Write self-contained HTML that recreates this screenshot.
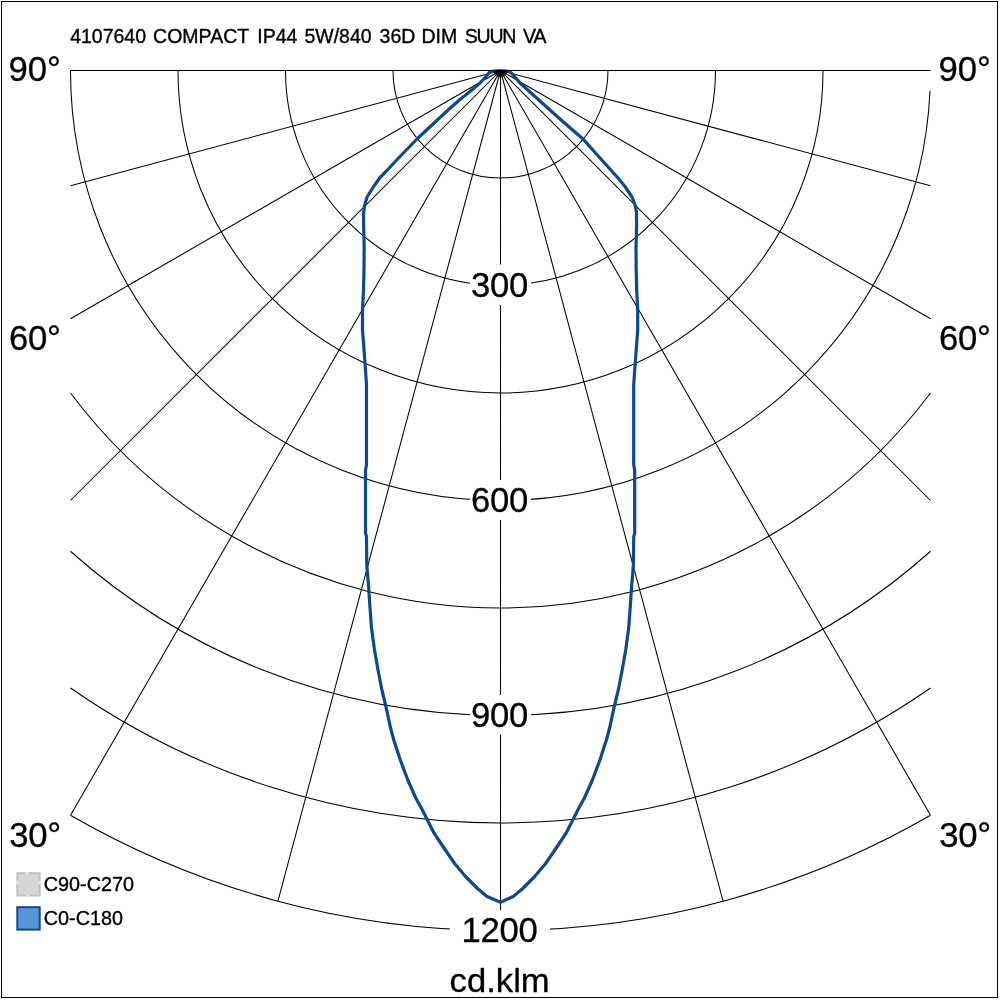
<!DOCTYPE html>
<html lang="en"><head><meta charset="utf-8"><title>4107640 COMPACT IP44 5W/840 36D DIM SUUN VA</title>
<style>
html,body{margin:0;padding:0;background:#fff;}
body{width:1000px;height:1000px;overflow:hidden;position:relative;}
svg{position:absolute;left:0;top:0;display:block;}
text{font-family:"Liberation Sans",Arial,Helvetica,sans-serif;fill:#000;}
.big{font-size:34.67px;stroke:#000;stroke-width:0.3px;}
.sm{font-size:20px;stroke:#000;stroke-width:0.35px;}
</style></head><body>
<svg width="1000" height="1000" viewBox="0 0 1000 1000">
<rect x="0" y="0" width="1000" height="1000" fill="#fff"/>
<rect x="1.5" y="1.5" width="996" height="996" fill="none" stroke="#000" stroke-width="1"/>
<path d="M393.00 70.50A107.5 107.5 0 0 0 608.00 70.50M285.50 70.50A215.0 215.0 0 0 0 715.50 70.50M178.00 70.50A322.5 322.5 0 0 0 823.00 70.50M70.50 70.50A430.0 430.0 0 0 0 930.50 70.50M70.50 393.00A537.5 537.5 0 0 0 930.50 393.00M70.50 551.25A645.0 645.0 0 0 0 930.50 551.25M70.50 688.04A752.5 752.5 0 0 0 930.50 688.04M70.50 815.28A860.0 860.0 0 0 0 930.50 815.28M500.5 70.5L500.50 930.50M500.5 70.5L277.92 901.20M500.5 70.5L723.08 901.20M500.5 70.5L70.50 815.28M500.5 70.5L930.50 815.28M500.5 70.5L70.50 500.50M500.5 70.5L930.50 500.50M500.5 70.5L70.50 318.76M500.5 70.5L930.50 318.76M500.5 70.5L70.50 185.72M500.5 70.5L930.50 185.72M70.5 70.5L930.5 70.5" fill="none" stroke="#000" stroke-width="1.05"/>
<g fill="#fff">
<rect x="470" y="264.5" width="61" height="40.5"/>
<rect x="470" y="480" width="61" height="40"/>
<rect x="470" y="695" width="61" height="39.5"/>
<rect x="450" y="910" width="100" height="41"/>
<rect x="929" y="50" width="63" height="41"/>
</g>
<path d="M929 70.5L930.5 70.5" stroke="#000" stroke-width="1"/>
<text class="sm" y="42.6" style="font-size:19.5px"><tspan x="70.15">4107640 </tspan><tspan x="153.1">COMPACT </tspan><tspan x="257.25">IP44 </tspan><tspan x="304.4">5W/840 </tspan><tspan x="379.55">36D </tspan><tspan x="421.5">DIM </tspan><tspan x="464.65" style="letter-spacing:-1.15px">SUUN </tspan><tspan x="522.9" style="letter-spacing:-0.9px">VA</tspan></text>
<g class="big" style="letter-spacing:-0.28px">
<text x="471.1" y="296.5">300</text>
<text x="471.1" y="511.7">600</text>
<text x="471.1" y="726.9">900</text>
<text x="461.6" y="942">1200</text>
</g>
<text class="big" transform="translate(449.6,991.6) scale(1,0.95)">cd.klm</text>
<g class="big">
<text x="8.5" y="81.3">90°</text>
<text x="9" y="350" style="letter-spacing:-0.28px">60°</text>
<text x="9.3" y="847.3" style="letter-spacing:-0.28px">30°</text>
<text x="938.5" y="81.3">90°</text>
<text x="939" y="350" style="letter-spacing:-0.28px">60°</text>
<text x="939.3" y="847.3" style="letter-spacing:-0.28px">30°</text>
</g>
<rect x="17.3" y="873.2" width="22.4" height="22.3" fill="#d6d6d6" stroke="#c0c0c0" stroke-width="2"/>
<g fill="#e4e4e4"><rect x="25.3" y="872" width="3.2" height="3"/><rect x="25.8" y="894" width="3.6" height="3"/><rect x="16" y="881" width="3" height="3.2"/><rect x="38" y="881" width="3" height="3.4"/></g>
<rect x="17.3" y="907.2" width="22.4" height="22.4" fill="#5b93d9" stroke="#0d4a8c" stroke-width="2"/>
<text class="sm" x="43.8" y="891.2" style="font-size:19.8px">C90-C270</text>
<text class="sm" x="43.8" y="924.8" style="font-size:19.8px">C0-C180</text>
<polyline points="500.5,70.5 490,71.6 486,76.5 480,83 470,91.5 460,99.5 450,108.3 440,117.5 417,139 400,156.5 385,172.5 380,177.5 374,186 367,197 364.5,206 363.6,213 363.6,225 364.2,248 364,270 363.5,290 362.5,310 362.5,330 364,350 365.5,370 366.5,385 366.5,465 365.5,470 365.5,533 366.5,537 366.8,565 368.5,585 369.8,605 371.5,628 374.5,650 378,670 381.9,690 386.3,708 390.3,727 393.8,740 400.3,760 407.8,780 415.8,798 422.4,810 426.9,819 434,833 444,848 455,864 466,877 478,889 487,896.5 500.5,902.3 513.2,896.5 522.2,889 534.2,877 545.2,864 556.2,848 566.2,833 573.3,819 577.8,810 584.4,798 592.4,780 599.9,760 606.4,740 609.9,727 613.9,708 618.3,690 622.2,670 625.7,650 628.7,628 630.4,605 631.7,585 633.4,565 633.7,537 634.7,533 634.7,470 633.7,465 633.7,385 634.7,370 636.2,350 637.7,330 637.7,310 636.7,290 636.2,270 636,248 636.6,225 636.4,212 635.5,206.5 634.6,203.5 632,197 625,186.5 618,178 600,158 583,139 572,129.5 560,119 550,110 540,101 530,92 520,83 515,77 510,71.7 500.5,70.5" fill="none" stroke="#0d4a8c" stroke-width="3.2" stroke-linejoin="round" stroke-linecap="round"/>
<path d="M500.5 70.5L493.74 72.31M500.5 70.5L494.44 74.00M500.5 70.5L495.55 75.45M500.5 70.5L497.00 76.56M500.5 70.5L498.69 77.26M500.5 70.5L500.50 77.50M500.5 70.5L502.31 77.26M500.5 70.5L504.00 76.56M500.5 70.5L505.45 75.45M500.5 70.5L506.56 74.00M500.5 70.5L507.26 72.31M70.5 70.5L930.2 70.5" fill="none" stroke="#000" stroke-width="1.05"/>
</svg>
</body></html>
